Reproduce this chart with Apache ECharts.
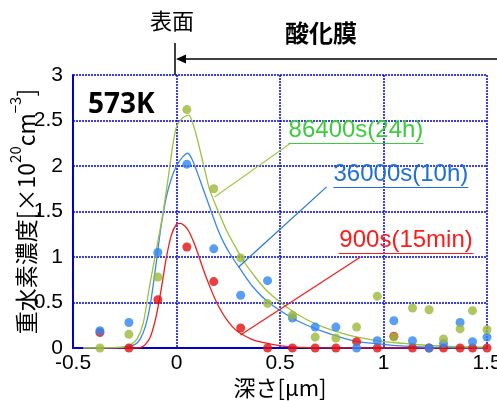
<!DOCTYPE html>
<html>
<head>
<meta charset="utf-8">
<script src="https://cdn.jsdelivr.net/npm/echarts@6/dist/echarts.min.js"></script>
<style>
  html, body { margin: 0; padding: 0; background: #fff; }
  #chart { width: 497px; height: 401px; }
</style>
</head>
<body>
<div id="chart"></div>
<script>
// Measured depth positions (μm) of the SIMS points
const depth = [-0.37, -0.23, -0.09, 0.05, 0.18, 0.31, 0.44, 0.56, 0.67, 0.77, 0.87, 0.97, 1.05, 1.14, 1.22, 1.29, 1.37, 1.43, 1.50];
// Deuterium concentration (×10^20 cm^-3) for each exposure time
const d900   = [0.17, 0.00, 0.53, 1.11, 0.73, 0.22, 0.00, 0.00, 0.00, 0.00, 0.07, 0.00, 0.13, 0.00, 0.00, 0.00, 0.00, 0.00, 0.00];
const d36000 = [0.19, 0.28, 1.05, 2.02, 1.09, 0.58, 0.74, 0.33, 0.23, 0.23, 0.00, 0.08, 0.30, 0.08, 0.00, 0.05, 0.28, 0.07, 0.12];
const d86400 = [0.00, 0.15, 0.78, 2.62, 1.75, 0.99, 0.49, 0.36, 0.12, 0.11, 0.23, 0.57, 0.12, 0.44, 0.42, 0.10, 0.21, 0.41, 0.20];

// Fitted diffusion profiles
const fitDepth900 = [-0.45, -0.20, -0.175, -0.15, -0.125, -0.10, -0.075, -0.05, -0.025, 0.00, 0.02, 0.04, 0.06, 0.08, 0.10, 0.13, 0.16, 0.19, 0.22, 0.25, 0.28, 0.31, 0.37, 0.44, 0.50, 0.55, 0.65, 0.80, 1.50];
const fit900      = [0.00, 0.00, 0.005, 0.04, 0.13, 0.33, 0.63, 0.98, 1.24, 1.36, 1.37, 1.34, 1.28, 1.18, 1.06, 0.86, 0.68, 0.52, 0.39, 0.29, 0.21, 0.16, 0.09, 0.05, 0.025, 0.012, 0.003, 0.00, 0.00];
const fitDepth36000 = [-0.45, -0.25, -0.20, -0.175, -0.15, -0.125, -0.10, -0.075, -0.05, -0.025, 0.00, 0.03, 0.055, 0.08, 0.10, 0.13, 0.16, 0.20, 0.23, 0.26, 0.31, 0.37, 0.44, 0.55, 0.63, 0.71, 0.79, 0.875, 1.00, 1.10, 1.20, 1.50];
const fit36000      = [0.00, 0.01, 0.04, 0.10, 0.24, 0.50, 0.90, 1.33, 1.65, 1.86, 2.00, 2.10, 2.14, 2.05, 1.93, 1.74, 1.55, 1.30, 1.15, 1.03, 0.86, 0.67, 0.51, 0.34, 0.25, 0.18, 0.12, 0.07, 0.04, 0.02, 0.01, 0.00];
const fitDepth86400 = [-0.45, -0.26, -0.22, -0.19, -0.16, -0.13, -0.10, -0.07, -0.04, -0.02, 0.00, 0.03, 0.06, 0.08, 0.10, 0.13, 0.16, 0.20, 0.24, 0.28, 0.32, 0.38, 0.44, 0.55, 0.63, 0.71, 0.79, 0.875, 1.00, 1.10, 1.20, 1.35, 1.50];
const fit86400      = [0.00, 0.01, 0.04, 0.10, 0.28, 0.68, 1.05, 1.42, 1.87, 2.20, 2.43, 2.53, 2.56, 2.46, 2.30, 2.02, 1.74, 1.51, 1.30, 1.13, 0.97, 0.78, 0.62, 0.42, 0.31, 0.23, 0.17, 0.12, 0.07, 0.05, 0.03, 0.015, 0.01];

// Axis ticks
const xTicks = { min: -0.5, max: 1.5, step: 0.5 };
const yTicks = { min: 0, max: 3, step: 0.5 };

const seriesNames = ['900s(15min)', '36000s(10h)', '86400s(24h)'];

const pairs = (xs, ys) => xs.map((x, i) => [x, ys[i]]);

const C = {
  red:   { dot: '#e01010', line: '#ee1c1c', text: '#ff1a1a' },
  blue:  { dot: '#2e86f2', line: '#3a86ee', text: '#1f6fd2', lead: '#2277cc' },
  green: { dot: '#9bb83a', line: '#9cc23c', text: '#3ccc3c', lead: '#a0cc44' }
};

const labelFont = 'Liberation Sans';

// Leader line plus underlined caption for one profile
function callout(lead, under, text, colText, colLead) {
  return {
    silent: true,
    symbol: 'none',
    animation: false,
    data: [
      [{ coord: lead[0], label: { show: false }, lineStyle: { color: colLead, width: 1.2, type: 'solid' } }, { coord: lead[1] }],
      [{ coord: under[0], name: text,
         label: { show: true, position: 'insideMiddleTop', distance: 1, formatter: '{b}',
                  color: colText, fontSize: 24, fontFamily: labelFont },
         lineStyle: { color: colText, width: 1.2, type: 'solid' } },
       { coord: under[1] }]
    ]
  };
}

const fitLine = (i, xs, ys, col, mark) => ({
  name: seriesNames[i] + ' fit', type: 'line', data: pairs(xs, ys), smooth: 0.25,
  showSymbol: false, lineStyle: { color: col, width: 1.3 }, z: 2, markLine: mark
});

const chart = echarts.init(document.getElementById('chart'), null, { renderer: 'canvas' });

chart.setOption({
  animation: false,
  backgroundColor: '#fff',
  title: {
    text: '573K', left: 83, top: 86,
    textStyle: { fontSize: 28, fontWeight: 'bold', color: '#000', fontFamily: 'Noto Sans' }
  },
  grid: { left: 73, right: 10, top: 75, bottom: 53, containLabel: false, outerBoundsMode: 'none' },
  xAxis: {
    type: 'value', min: xTicks.min, max: xTicks.max, interval: xTicks.step,
    name: '深さ[μm]', nameLocation: 'middle', nameGap: 29, nameMoveOverlap: false,
    nameTextStyle: { fontSize: 22, color: '#000', fontFamily: 'Noto Sans CJK JP' },
    axisLine: { lineStyle: { color: '#0000d0', width: 2 } },
    axisTick: { show: false },
    axisLabel: { fontSize: 21, color: '#000', margin: 5, fontFamily: 'Liberation Sans Narrow, Liberation Sans' },
    splitLine: { show: true, lineStyle: { color: '#0000e0', width: 1.5, type: [2, 1] } }
  },
  yAxis: {
    type: 'value', min: yTicks.min, max: yTicks.max, interval: yTicks.step,
    name: '{a|重水素濃度[×10}{s|20}{a|cm}{s|−3}{a|]}',
    nameLocation: 'middle', nameRotate: 90, nameGap: 35, nameMoveOverlap: false,
    nameTextStyle: {
      rich: {
        a: { fontSize: 23, color: '#000', fontFamily: 'Noto Sans CJK JP', lineHeight: 30, verticalAlign: 'bottom' },
        s: { fontSize: 15, color: '#000', fontFamily: 'Noto Sans CJK JP', lineHeight: 30, verticalAlign: 'top' }
      }
    },
    axisLine: { show: true, onZero: false, lineStyle: { color: '#0000d0', width: 2 } },
    axisTick: { show: false },
    axisLabel: { fontSize: 21, color: '#000', margin: 10, fontFamily: 'Liberation Sans Narrow, Liberation Sans' },
    splitLine: { show: true, lineStyle: { color: '#0000e0', width: 1.5, type: [2, 1] } }
  },
  series: [
    fitLine(0, fitDepth900, fit900, C.red.line,
      callout([[0.309, 0.143], [0.889, 1.0]], [[0.783, 1.044], [1.435, 1.044]], seriesNames[0], C.red.text, C.red.line)),
    fitLine(1, fitDepth36000, fit36000, C.blue.line,
      callout([[0.30, 0.89], [0.725, 1.77]], [[0.758, 1.77], [1.41, 1.77]], seriesNames[1], C.blue.text, C.blue.lead)),
    fitLine(2, fitDepth86400, fit86400, C.green.line,
      callout([[0.184, 1.66], [0.551, 2.25]], [[0.541, 2.25], [1.193, 2.25]], seriesNames[2], C.green.text, C.green.lead)),
    { name: seriesNames[0], type: 'scatter', data: pairs(depth, d900), symbolSize: 9,
      itemStyle: { color: C.red.dot }, z: 3 },
    { name: seriesNames[1], type: 'scatter', data: pairs(depth, d36000), symbolSize: 9,
      itemStyle: { color: C.blue.dot }, z: 3 },
    { name: seriesNames[2], type: 'scatter', data: pairs(depth, d86400), symbolSize: 9,
      itemStyle: { color: C.green.dot }, z: 3 }
  ],
  graphic: [
    { type: 'text', left: 150, top: 10, style: { text: '表面', fill: '#000', font: '22px "Noto Sans CJK JP"' } },
    { type: 'text', left: 285, top: 21, style: { text: '酸化膜', fill: '#000', font: 'bold 24px "Noto Sans CJK JP"' } },
    { type: 'line', shape: { x1: 175, y1: 43, x2: 175, y2: 75 }, style: { stroke: '#000', lineWidth: 1.5 } },
    { type: 'line', shape: { x1: 184, y1: 59, x2: 497, y2: 59 }, style: { stroke: '#000', lineWidth: 1.5 } },
    { type: 'polygon', shape: { points: [[176, 59], [186, 54.5], [186, 63.5]] }, style: { fill: '#000' } }
  ]
});
</script>
</body>
</html>
